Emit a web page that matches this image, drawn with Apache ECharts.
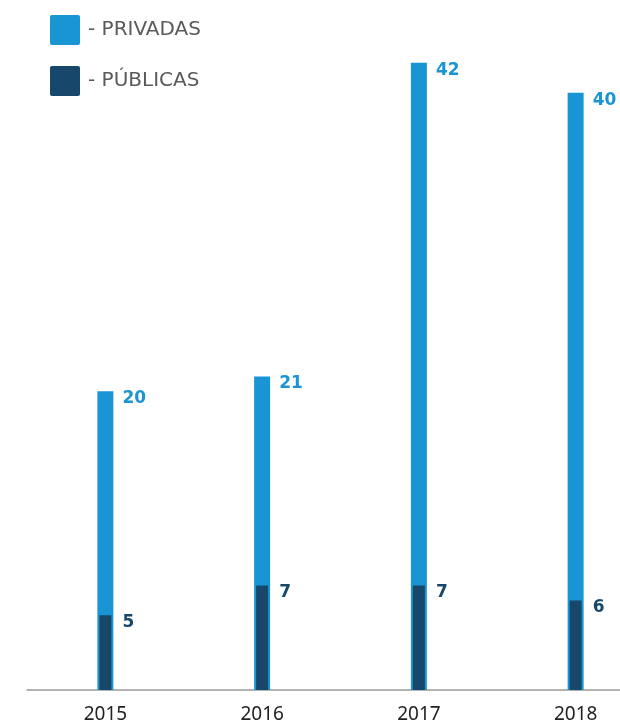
<!DOCTYPE html>
<html><head><meta charset="utf-8">
<script src="https://cdn.jsdelivr.net/npm/echarts@6/dist/echarts.min.js"></script>
<style>html,body{margin:0;padding:0;background:#fff}#c{width:620px;height:727px}</style>
</head><body><div id="c"></div>
<script>
var years = ['2015', '2016', '2017', '2018'];
var privadas = [20, 21, 42, 40];
var publicas = [5, 7, 7, 6];
var seriesNames = ['- PRIVADAS', '- PÚBLICAS'];

var chart = echarts.init(document.getElementById('c'));
var lightC = '#1a95d3', darkC = '#17486b';
chart.setOption({
  animation: false,
  legend: {
    orient: 'vertical', left: 50, top: 15, padding: 0,
    itemWidth: 30, itemHeight: 30, itemGap: 21,
    icon: 'path://M2,0 H28 A2,2 0 0 1 30,2 V28 A2,2 0 0 1 28,30 H2 A2,2 0 0 1 0,28 V2 A2,2 0 0 1 2,0 Z',
    textStyle: { fontFamily: 'DejaVu Sans', fontSize: 20, color: '#5a5a5a', padding: [0, 0, 0, 3] },
    data: seriesNames
  },
  grid: { left: 27, right: -34, top: 18, bottom: 37, outerBoundsMode: 'none', containLabel: false },
  xAxis: [{
    type: 'category', data: years,
    axisLine: { lineStyle: { color: '#9a9a9a', width: 1.5 } },
    axisTick: { show: false },
    axisLabel: { fontFamily: 'Noto Sans', fontSize: 19, color: '#222', margin: 15 }
  }, {
    type: 'category', data: years, show: false
  }],
  yAxis: { type: 'value', min: 0, max: 45, show: false, splitLine: { show: false } },
  series: [{
    name: seriesNames[0], type: 'bar', data: privadas, barWidth: 16, xAxisIndex: 0,
    itemStyle: { color: lightC },
    label: { show: true, position: [25, -1], align: 'left', verticalAlign: 'top',
      fontFamily: 'DejaVu Sans', fontWeight: 'bold', fontSize: 17, color: lightC }
  }, {
    name: seriesNames[1], type: 'bar', data: publicas, barWidth: 12, xAxisIndex: 1,
    itemStyle: { color: darkC },
    label: { show: true, position: [23, -1], align: 'left', verticalAlign: 'top',
      fontFamily: 'DejaVu Sans', fontWeight: 'bold', fontSize: 17, color: darkC }
  }]
});
</script></body></html>
